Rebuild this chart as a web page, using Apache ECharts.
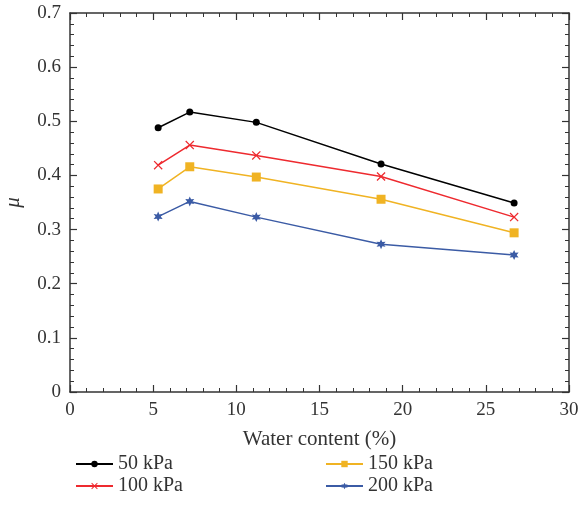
<!DOCTYPE html>
<html>
<head>
<meta charset="utf-8">
<script src="https://cdn.jsdelivr.net/npm/echarts@6/dist/echarts.min.js"></script>
<style>
  html, body { margin: 0; padding: 0; background: #fff; }
  #chart { width: 578px; height: 522px; }
</style>
</head>
<body>
<div id="chart"></div>
<script>
// Water content (%) at each test point
var waterContent = [5.3, 7.2, 11.2, 18.7, 26.7];
// Friction coefficient at each normal stress
var mu50  = [0.488, 0.517, 0.498, 0.421, 0.349];
var mu100 = [0.419, 0.456, 0.437, 0.398, 0.323];
var mu150 = [0.375, 0.416, 0.397, 0.356, 0.294];
var mu200 = [0.324, 0.352, 0.323, 0.273, 0.253];
var seriesNames = ['50 kPa', '100 kPa', '150 kPa', '200 kPa'];

var FONT = '"Liberation Serif", "DejaVu Serif", serif';
var AXIS_COLOR = '#333';

var crossPath = 'path://M0,1L1,0L5,4L9,0L10,1L6,5L10,9L9,10L5,6L1,10L0,9L4,5Z';
var starPath = 'path://M0,-10L2.5,-4.33L8.66,-5L5,0L8.66,5L2.5,4.33L0,10L-2.5,4.33L-8.66,5L-5,0L-8.66,-5L-2.5,-4.33Z';

function pairs(ys) {
  return waterContent.map(function (x, i) { return [x, ys[i]]; });
}

function lineSeries(name, ys, color, symbol, size) {
  return {
    name: name,
    type: 'line',
    data: pairs(ys),
    symbol: symbol,
    symbolSize: size,
    showAllSymbol: true,
    lineStyle: { color: color, width: 1.5 },
    itemStyle: { color: color },
    emphasis: { disabled: true },
    animation: false
  };
}

var tickCommon = {
  axisLine: { show: true, onZero: false, lineStyle: { color: AXIS_COLOR, width: 1.5 } },
  axisTick: { show: true, inside: true, length: 7, lineStyle: { color: AXIS_COLOR, width: 1.2 } },
  minorTick: { show: true, splitNumber: 5, length: 4, lineStyle: { color: AXIS_COLOR, width: 1 } },
  splitLine: { show: false }
};

function axis(base, extra) {
  return Object.assign({}, JSON.parse(JSON.stringify(tickCommon)), base, extra);
}

var labelStyle = { fontFamily: FONT, fontSize: 19, color: '#333' };

var legendCommon = {
  orient: 'vertical',
  top: 449,
  itemWidth: 37,
  itemHeight: 8,
  itemGap: 2,
  textStyle: { fontFamily: FONT, fontSize: 20, color: '#333', padding: [0, 0, 0, 0] }
};

var option = {
  backgroundColor: '#fff',
  animation: false,
  grid: { left: 70, right: 9, top: 13, bottom: 130, containLabel: false, outerBoundsMode: 'none' },
  xAxis: [
    axis({ type: 'value', min: 0, max: 30, interval: 5 }, {
      position: 'bottom',
      name: 'Water content (%)',
      nameLocation: 'middle',
      nameGap: 37,
      nameTextStyle: { fontFamily: FONT, fontSize: 21, color: '#333' },
      axisLabel: Object.assign({ margin: 9 }, labelStyle)
    }),
    axis({ type: 'value', min: 0, max: 30, interval: 5 }, {
      position: 'top',
      axisLabel: { show: false }
    })
  ],
  yAxis: [
    axis({ type: 'value', min: 0, max: 0.7, interval: 0.1 }, {
      position: 'left',
      name: 'μ',
      nameLocation: 'middle',
      nameGap: 46,
      nameTextStyle: { fontFamily: FONT, fontSize: 21, fontStyle: 'italic', color: '#333' },
      axisLabel: Object.assign({ margin: 9, formatter: function (v) { return v === 0 ? '0' : v.toFixed(1); } }, labelStyle)
    }),
    axis({ type: 'value', min: 0, max: 0.7, interval: 0.1 }, {
      position: 'right',
      axisLabel: { show: false }
    })
  ],
  legend: [
    Object.assign({ data: [seriesNames[0], seriesNames[1]], left: 70 }, legendCommon),
    Object.assign({ data: [seriesNames[2], seriesNames[3]], left: 320 }, legendCommon)
  ],
  series: [
    lineSeries(seriesNames[0], mu50, '#000000', 'circle', 7),
    lineSeries(seriesNames[1], mu100, '#ee2a2f', crossPath, 9),
    lineSeries(seriesNames[2], mu150, '#f0b323', 'rect', 9),
    lineSeries(seriesNames[3], mu200, '#3b5ba5', starPath, [9, 10])
  ]
};

var chart = echarts.init(document.getElementById('chart'), null, { renderer: 'canvas' });
chart.setOption(option);
</script>
</body>
</html>
